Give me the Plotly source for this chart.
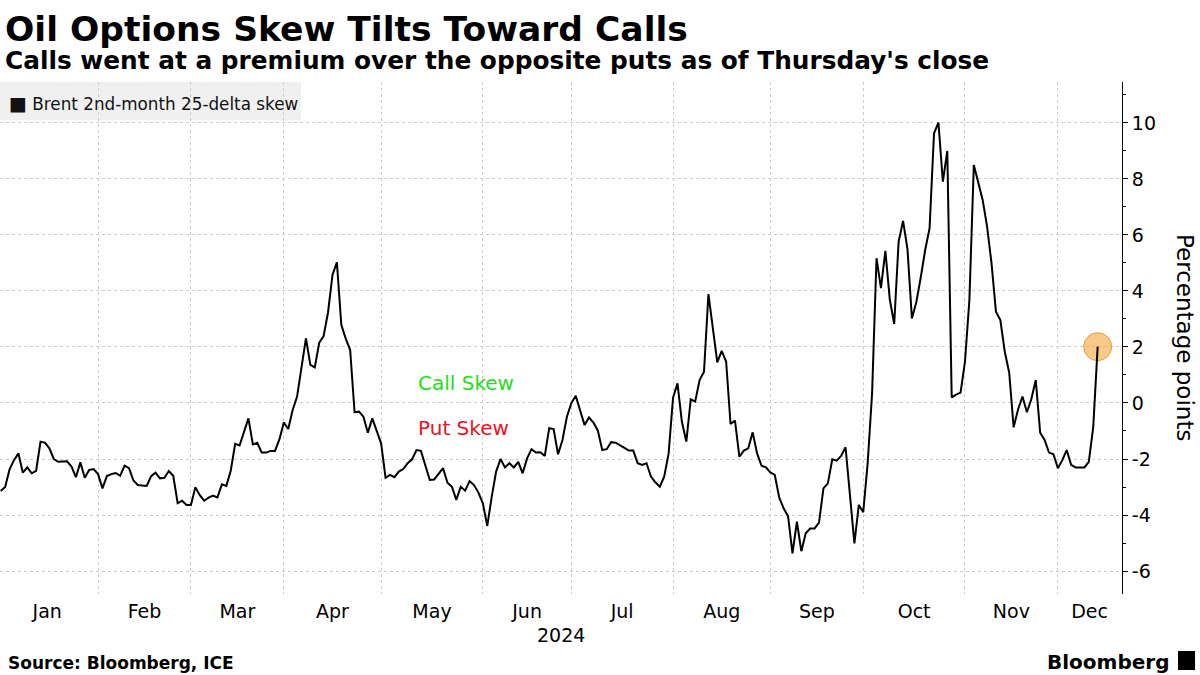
import pandas as pd
import plotly.graph_objects as go

# Brent 2nd-month 25-delta skew, percentage points, one value per weekday
jan = [-3.14, -3.0, -2.37, -2.04, -1.8, -2.49, -2.3, -2.51, -2.42, -1.38, -1.42, -1.62,
       -2.0, -2.1, -2.09, -2.08, -2.27, -2.65, -2.12, -2.67, -2.39, -2.36, -2.54]
feb = [-3.05, -2.61, -2.54, -2.5, -2.6, -2.24, -2.33, -2.77, -2.93, -2.95, -2.96, -2.61,
       -2.49, -2.69, -2.67, -2.43, -2.6, -3.58, -3.49, -3.64, -3.64]
mar = [-3.01, -3.29, -3.49, -3.38, -3.31, -3.37, -2.9, -2.96, -2.42, -1.46, -1.52, -1.0,
       -0.55, -1.48, -1.42, -1.77, -1.77, -1.71, -1.71, -1.3, -0.7]
apr = [-0.93, -0.25, 0.23, 1.24, 2.31, 1.36, 1.27, 2.15, 2.39, 3.24, 4.57, 5.02,
       2.79, 2.3, 1.89, -0.33, -0.31, -0.49, -1.06, -0.55, -0.96, -1.44]
may = [-2.67, -2.57, -2.65, -2.45, -2.36, -2.15, -2.01, -1.68, -1.71, -2.25, -2.75, -2.73,
       -2.51, -2.33, -2.85, -2.99, -3.46, -2.99, -3.13, -2.79, -2.93, -3.2, -3.58]
jun = [-4.39, -3.35, -2.45, -2.0, -2.3, -2.15, -2.3, -2.1, -2.51, -1.98, -1.65, -1.77,
       -1.76, -1.89, -0.9, -0.93, -1.83, -1.32, -0.49, -0.01]
jul = [0.26, -0.27, -0.79, -0.52, -0.7, -0.99, -1.68, -1.65, -1.4, -1.42, -1.5, -1.6,
       -1.7, -1.7, -2.15, -2.21, -2.15, -2.63, -2.83, -2.99, -2.63, -1.8, 0.19]
aug = [0.7, -0.67, -1.38, 0.13, 0.05, 0.82, 1.12, 3.89, 2.67, 1.45, 1.86, 1.48,
       -0.75, -0.63, -1.92, -1.7, -1.62, -1.05, -1.8, -2.24, -2.3, -2.48]
sep = [-2.57, -3.37, -3.76, -4.04, -5.37, -4.24, -5.29, -4.65, -4.48, -4.48, -4.27, -3.05,
       -2.87, -2.01, -2.06, -1.89, -1.58, -3.23, -5.01, -3.64, -3.9]
oct_ = [-2.15, 0.35, 5.17, 4.1, 5.43, 3.7, 2.82, 5.76, 6.5, 5.49, 3.02, 3.6,
        4.48, 5.46, 6.24, 9.63, 10.01, 7.9, 9.0, 0.2, 0.3, 0.37, 1.48]
nov = [3.68, 8.5, 7.85, 7.25, 6.3, 4.99, 3.26, 2.96, 1.83, 1.08, -0.87, -0.23,
       0.23, -0.33, 0.13, 0.82, -1.06, -1.32, -1.77, -1.83, -2.33]
dec = [-2.04, -1.68, -2.21, -2.3, -2.3, -2.3, -2.1, -0.85, 2.01]

skew = jan + feb + mar + apr + may + jun + jul + aug + sep + oct_ + nov + dec
days = pd.bdate_range("2024-01-01", "2024-12-12")
# Bloomberg plots each close at the end of its day
x_days = days + pd.Timedelta(hours=23, minutes=59)

month_labels = ["Jan", "Feb", "Mar", "Apr", "May", "Jun",
                "Jul", "Aug", "Sep", "Oct", "Nov", "Dec"]
month_label_pos = ["2024-01-16 12:00", "2024-02-15 12:00", "2024-03-15 12:00",
                   "2024-04-16", "2024-05-16 12:00", "2024-06-17",
                   "2024-07-16 12:00", "2024-08-16", "2024-09-16 12:00",
                   "2024-10-16 12:00", "2024-11-15 12:00", "2024-12-11 04:00"]
month_starts = ["2024-02-01", "2024-03-01", "2024-04-01", "2024-05-01", "2024-06-03",
                "2024-07-01", "2024-08-01", "2024-09-02", "2024-10-01", "2024-11-01",
                "2024-12-02"]
y_ticks = [-6, -4, -2, 0, 2, 4, 6, 8, 10]
y_tick_text = ["-6", "-4", "-2", "0", "2", "4", "6", "8", "10"]

GRID = "#cccccc"
FONT = "DejaVu Sans"

fig = go.Figure()

# highlight on the latest reading
fig.add_trace(go.Scatter(
    x=[x_days[-1]], y=[skew[-1]],
    mode="markers",
    marker=dict(size=28, color="rgba(246,168,64,0.62)",
                line=dict(color="rgba(232,150,40,0.9)", width=1)),
    showlegend=False, hoverinfo="skip"
))

fig.add_trace(go.Scatter(
    x=x_days, y=skew,
    mode="lines",
    name="Brent 2nd-month 25-delta skew",
    line=dict(color="black", width=2),
    showlegend=False
))

fig.update_layout(
    width=1200, height=675,
    margin=dict(l=0, r=78, t=82, b=81, pad=0),
    paper_bgcolor="white", plot_bgcolor="white",
    font=dict(family=FONT, color="black"),
    xaxis=dict(
        type="date",
        range=["2024-01-01 20:00", "2024-12-20 12:00"],
        rangebreaks=[dict(bounds=["sat", "mon"])],
        tickmode="array", tickvals=month_label_pos, ticktext=month_labels,
        ticks="", showgrid=False, zeroline=False, showline=False,
        ticklabelstandoff=4,
        tickfont=dict(size=19, color="black"),
        minor=dict(tickmode="array", tickvals=month_starts, ticks="",
                   showgrid=True, gridcolor=GRID, griddash="dot", gridwidth=1),
    ),
    yaxis=dict(
        side="right",
        range=[-6.82, 11.46],
        tickmode="array", tickvals=y_ticks, ticktext=y_tick_text,
        showline=True, linecolor="black", linewidth=1,
        ticks="outside", ticklen=5, tickcolor="black",
        tickfont=dict(size=19, color="black"),
        showgrid=True, gridcolor=GRID, griddash="dot", gridwidth=1,
        zeroline=False,
        minor=dict(tickmode="linear", tick0=0, dtick=1, ticks="outside",
                   ticklen=3, tickcolor="black", showgrid=False),
    ),
)

# legend box, drawn under the gridlines like the original
fig.add_shape(type="rect", xref="paper", yref="paper",
              x0=0, x1=0.2683, y0=0.9258, y1=1.0,
              fillcolor="#f0f0f0", line=dict(width=0), layer="below")

annotations = [
    dict(text="<b>Oil Options Skew Tilts Toward Calls</b>", x=0.003, y=1.147,
         xanchor="left", yanchor="top", font=dict(size=34.5)),
    dict(text="<b>Calls went at a premium over the opposite puts as of Thursday's close</b>",
         x=0.003, y=1.0742, xanchor="left", yanchor="top", font=dict(size=24.8)),
    dict(text="<span style='font-size:19px'>■</span> Brent 2nd-month 25-delta skew",
         x=0.006, y=0.959, xanchor="left", yanchor="middle",
         font=dict(size=16.8, color="#111111")),
    dict(text="Call Skew", x=0.3708, y=0.72, yref="y", xanchor="left", yanchor="middle",
         font=dict(size=20, color="#22dd22")),
    dict(text="Put Skew", x=0.3708, y=-0.88, yref="y", xanchor="left", yanchor="middle",
         font=dict(size=20, color="#e8141e")),
    dict(text="Percentage points", x=1.0561, y=0.5, xanchor="center", yanchor="middle",
         textangle=90, font=dict(size=23)),
    dict(text="2024", x=0.5, y=-0.08, xanchor="center", yanchor="middle",
         font=dict(size=19)),
    dict(text="<b>Source: Bloomberg, ICE</b>", x=0.0053, y=-0.1348,
         xanchor="left", yanchor="middle", font=dict(size=17)),
    dict(text="<b>Bloomberg</b>", x=1.0437, y=-0.1328,
         xanchor="right", yanchor="middle", font=dict(size=20)),
]
for a in annotations:
    a.setdefault("xref", "paper")
    a.setdefault("yref", "paper")
    a["showarrow"] = False
    fig.add_annotation(**a)

# little Bloomberg terminal mark next to the wordmark
fig.add_shape(type="rect", xref="paper", yref="paper",
              x0=1.0499, x1=1.0651, y0=-0.1484, y1=-0.1113,
              fillcolor="black", line=dict(width=0))

# the page's default 8px body margin would push the fixed-size figure off the window
fig.write_html("out.html", config={"displayModeBar": False},
               post_script="document.body.style.margin = '0';")
